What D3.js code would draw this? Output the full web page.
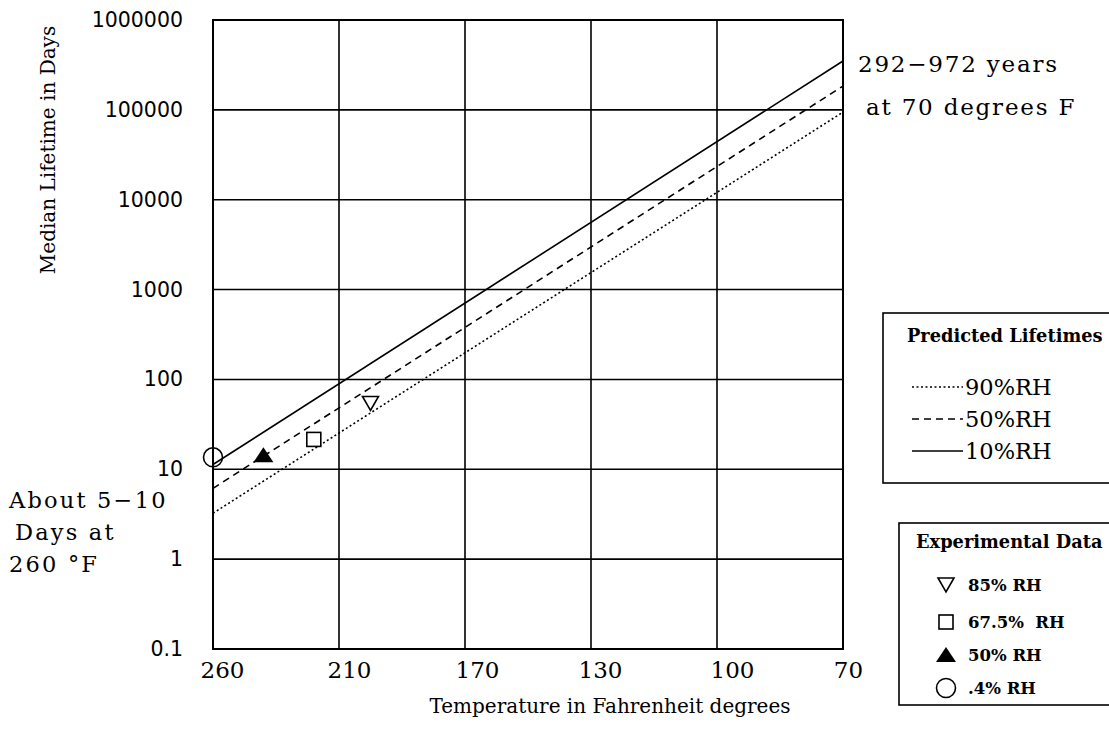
<!DOCTYPE html>
<html>
<head>
<meta charset="utf-8">
<script src="https://cdn.jsdelivr.net/npm/d3@7"></script>
<style>
  html, body { margin: 0; padding: 0; background: #fff; }
  svg { display: block; }
  .serif { font-family: "DejaVu Serif", "Liberation Serif", serif; fill: #000; }
  .sans  { font-family: "DejaVu Sans", sans-serif; fill: #000; }
</style>
</head>
<body>
<svg id="chart" width="1109" height="740"></svg>
<script>
// ── Data ──────────────────────────────────────────────────────────────────────

const tempTicks = [260, 210, 170, 130, 100, 70];
const lifeTicks = [0.1, 1, 10, 100, 1000, 10000, 100000, 1000000];

// predicted lifetimes (days) at the two ends of the range
const lineTemps = [260, 70];
const rh90 = [3.24, 94400];
const rh50 = [6.14, 184000];
const rh10 = [11.3, 350000];

// experimental points
const expLabels = ['85% RH', '67.5%  RH', '50% RH', '.4% RH'];
const expTemps  = [200, 220, 240, 260];
const expDays   = [54, 21.5, 14.3, 13.6];

// ── Layout ────────────────────────────────────────────────────────────────────

const L = 213, R = 843, T = 20, B = 649;
const svg = d3.select('#chart');
svg.append('rect').attr('width', 1109).attr('height', 740).attr('fill', '#fff');

const x = d3.scaleLinear()
  .domain(tempTicks)
  .range(tempTicks.map((_, i) => L + i * (R - L) / (tempTicks.length - 1)));
const y = d3.scaleLog().domain([0.1, 1e6]).range([B, T]);

// ── Grid ──────────────────────────────────────────────────────────────────────

const grid = svg.append('g').attr('stroke', '#000').attr('stroke-width', 1.6);
grid.selectAll('.h').data(lifeTicks).enter().append('line')
  .attr('x1', L).attr('x2', R)
  .attr('y1', d => y(d)).attr('y2', d => y(d));
grid.selectAll('.v').data(tempTicks).enter().append('line')
  .attr('x1', d => x(d)).attr('x2', d => x(d))
  .attr('y1', T).attr('y2', B);

// ── Axes ──────────────────────────────────────────────────────────────────────

const yAxis = svg.append('g')
  .attr('transform', `translate(${L},0)`)
  .call(d3.axisLeft(y).tickValues(lifeTicks).tickSize(0).tickPadding(30)
    .tickFormat(d => d < 1 ? '0.1' : d3.format('d')(d)));
yAxis.select('.domain').remove();
yAxis.selectAll('text').attr('class', 'sans').attr('font-size', 20.5);

// tick labels sit a little right of their grid lines, as in the original
const xShift = { 260: 9, 210: 10, 170: 12, 130: 9, 100: 15, 70: 5 };
const xAxis = svg.append('g')
  .attr('transform', `translate(0,${B})`)
  .call(d3.axisBottom(x).tickValues(tempTicks).tickSize(0).tickPadding(13));
xAxis.select('.domain').remove();
xAxis.selectAll('text').attr('class', 'serif').attr('font-size', 23)
  .attr('dx', d => xShift[d]);

svg.append('text').attr('class', 'serif')
  .attr('x', 610).attr('y', 713).attr('text-anchor', 'middle')
  .attr('font-size', 20).text('Temperature in Fahrenheit degrees');

svg.append('text').attr('class', 'serif')
  .attr('transform', 'translate(55,150) rotate(-90)')
  .attr('text-anchor', 'middle').attr('font-size', 20)
  .text('Median Lifetime in Days');

// ── Predicted lines ──────────────────────────────────────────────────────────

const line = d3.line().x(d => x(d[0])).y(d => y(d[1]));
const series = [
  { vals: rh90, dash: '2,2.5', label: '90%RH' },
  { vals: rh50, dash: '7,5',   label: '50%RH' },
  { vals: rh10, dash: null,    label: '10%RH' }
];
svg.append('g').selectAll('path').data(series).enter().append('path')
  .attr('d', s => line(lineTemps.map((t, i) => [t, s.vals[i]])))
  .attr('fill', 'none').attr('stroke', '#000').attr('stroke-width', 1.6)
  .attr('stroke-dasharray', s => s.dash);

// ── Markers ──────────────────────────────────────────────────────────────────

function marker(g, i, cx, cy) {
  if (i === 0) {
    g.append('path').attr('d', `M${cx - 8},${cy - 7}L${cx + 8},${cy - 7}L${cx},${cy + 7}Z`)
      .attr('fill', '#fff').attr('stroke', '#000').attr('stroke-width', 1.6);
  } else if (i === 1) {
    g.append('rect').attr('x', cx - 7).attr('y', cy - 7).attr('width', 14).attr('height', 14)
      .attr('fill', '#fff').attr('stroke', '#000').attr('stroke-width', 1.6);
  } else if (i === 2) {
    g.append('path').attr('d', `M${cx},${cy - 8}L${cx + 10},${cy + 7}L${cx - 10},${cy + 7}Z`)
      .attr('fill', '#000');
  } else {
    g.append('circle').attr('cx', cx).attr('cy', cy).attr('r', 9.5)
      .attr('fill', 'none').attr('stroke', '#000').attr('stroke-width', 1.6);
  }
}

const pts = svg.append('g');
expTemps.forEach((t, i) => marker(pts, i, x(t), y(expDays[i])));

// ── Border ───────────────────────────────────────────────────────────────────

svg.append('rect').attr('x', L).attr('y', T).attr('width', R - L).attr('height', B - T)
  .attr('fill', 'none').attr('stroke', '#000').attr('stroke-width', 2);

// ── Annotations ──────────────────────────────────────────────────────────────

const ann = svg.append('g').attr('class', 'serif').attr('font-size', 23)
  .attr('letter-spacing', 1.8);
ann.append('text').attr('x', 858).attr('y', 72).text('292\u2212972 years');
ann.append('text').attr('x', 866).attr('y', 115).text('at 70 degrees F');

const left = svg.append('g').attr('class', 'serif').attr('font-size', 22.5)
  .attr('letter-spacing', 2.2);
left.append('text').attr('x', 9).attr('y', 508).text('About 5\u221210');
left.append('text').attr('x', 15).attr('y', 540).text('Days at');
left.append('text').attr('x', 9).attr('y', 572).text('260 \u00b0F');

// ── Legend: predicted ────────────────────────────────────────────────────────

const lg1 = svg.append('g');
lg1.append('rect').attr('x', 883).attr('y', 313).attr('width', 240).attr('height', 170)
  .attr('fill', '#fff').attr('stroke', '#000').attr('stroke-width', 1.6);
lg1.append('text').attr('class', 'serif').attr('font-weight', 'bold').attr('font-size', 17.8)
  .attr('x', 907).attr('y', 342).text('Predicted Lifetimes');
series.forEach((s, i) => {
  const ly = 387 + i * 32;
  lg1.append('line').attr('x1', 912).attr('x2', 963).attr('y1', ly).attr('y2', ly)
    .attr('stroke', '#000').attr('stroke-width', 1.4).attr('stroke-dasharray', s.dash);
  lg1.append('text').attr('class', 'serif').attr('font-size', 22.5)
    .attr('x', 965).attr('y', ly + 8).text(s.label);
});

// ── Legend: experimental ─────────────────────────────────────────────────────

const lg2 = svg.append('g');
lg2.append('rect').attr('x', 899).attr('y', 523).attr('width', 230).attr('height', 182)
  .attr('fill', '#fff').attr('stroke', '#000').attr('stroke-width', 1.6);
lg2.append('text').attr('class', 'serif').attr('font-weight', 'bold').attr('font-size', 17.8)
  .attr('x', 916).attr('y', 548).text('Experimental Data');
expLabels.forEach((lab, i) => {
  const ly = [585, 622, 655, 688][i];
  marker(lg2, i, 946, ly);
  lg2.append('text').attr('class', 'serif').attr('font-weight', 'bold').attr('font-size', 16.5)
    .style('white-space', 'pre')
    .attr('x', 968).attr('y', ly + 6).text(lab);
});
</script>
</body>
</html>
